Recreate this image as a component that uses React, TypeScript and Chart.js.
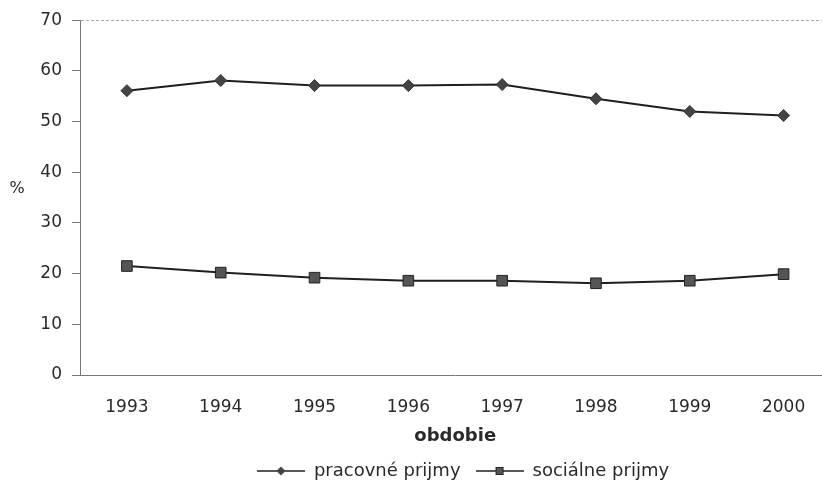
import React, { useEffect, useRef } from 'react';
import { Chart, registerables } from 'chart.js';

Chart.register(...registerables);

const years = ['1993', '1994', '1995', '1996', '1997', '1998', '1999', '2000'];
const pracovnePrijmy = [56.1, 58.1, 57.1, 57.1, 57.3, 54.5, 52.0, 51.2];
const socialnePrijmy = [21.5, 20.2, 19.2, 18.6, 18.6, 18.1, 18.6, 19.9];
const seriesLabels = ['pracovné prijmy', 'sociálne prijmy'];
const yMin = 0;
const yMax = 70;
const yStep = 10;
const xTitle = 'obdobie';
const yTitle = '%';

const FONT = '"DejaVu Sans", sans-serif';
const INK = '#1f1f1f';
const TEXT = '#2a2a2a';

function legendIcon(kind: 'diamond' | 'square'): HTMLCanvasElement {
  const c = document.createElement('canvas');
  c.width = 48;
  c.height = 12;
  const g = c.getContext('2d')!;
  g.strokeStyle = INK;
  g.lineWidth = 1.5;
  g.beginPath();
  g.moveTo(0, 6);
  g.lineTo(48, 6);
  g.stroke();
  if (kind === 'diamond') {
    g.fillStyle = '#444';
    g.beginPath();
    g.moveTo(19.5, 6);
    g.lineTo(24, 1.5);
    g.lineTo(28.5, 6);
    g.lineTo(24, 10.5);
    g.closePath();
    g.fill();
  } else {
    g.fillStyle = '#555';
    g.fillRect(20, 2, 8, 8);
    g.lineWidth = 1;
    g.strokeStyle = '#222';
    g.strokeRect(20.5, 2.5, 7, 7);
  }
  return c;
}

const decor = {
  id: 'decor',
  afterLayout(chart: any) {
    const lg = chart.legend;
    if (lg) {
      const dx = 463 - (lg.left + lg.right) / 2;
      lg.left += dx;
      lg.right += dx;
      const pad = lg.options.labels.padding;
      const newTop = 471 - pad - 9;
      const h = lg.bottom - lg.top;
      lg.top = newTop;
      lg.bottom = newTop + h;
    }
  },
  afterDraw(chart: any) {
    const ctx = chart.ctx;
    ctx.save();
    ctx.font = `16px ${FONT}`;
    ctx.fillStyle = TEXT;
    ctx.textAlign = 'center';
    ctx.textBaseline = 'middle';
    ctx.fillText(yTitle, 17, 189);
    ctx.restore();
  },
};

export default function App() {
  const ref = useRef<HTMLCanvasElement>(null);
  useEffect(() => {
    if (!ref.current) return;
    const icons = [legendIcon('diamond'), legendIcon('square')];
    const chart = new Chart(ref.current, {
      type: 'line',
      data: {
        labels: years,
        datasets: [
          {
            label: seriesLabels[0],
            data: pracovnePrijmy,
            borderColor: INK,
            borderWidth: 2,
            pointStyle: 'rectRot',
            pointRadius: 6,
            pointBackgroundColor: '#444',
            pointBorderColor: '#333',
            pointBorderWidth: 1,
            tension: 0,
          },
          {
            label: seriesLabels[1],
            data: socialnePrijmy,
            borderColor: INK,
            borderWidth: 2,
            pointStyle: 'rect',
            pointRadius: 7.5,
            pointBackgroundColor: '#555',
            pointBorderColor: '#222',
            pointBorderWidth: 1,
            tension: 0,
          },
        ],
      },
      options: {
        responsive: false,
        animation: false,
        devicePixelRatio: 1,
        layout: { padding: { top: 20, left: 0, right: 0, bottom: -4 } },
        plugins: {
          tooltip: { enabled: false },
          legend: {
            position: 'bottom',
            fullSize: false,
            labels: {
              usePointStyle: true,
              pointStyleWidth: 48,
              padding: 15,
              color: TEXT,
              font: { family: FONT, size: 18 },
              generateLabels: (c: any) =>
                c.data.datasets.map((ds: any, i: number) => ({
                  text: ds.label,
                  pointStyle: icons[i],
                  fillStyle: 'transparent',
                  strokeStyle: 'transparent',
                  lineWidth: 0,
                  hidden: false,
                  datasetIndex: i,
                  fontColor: TEXT,
                })),
            },
          },
        },
        scales: {
          x: {
            type: 'category',
            offset: true,
            grid: { display: false, drawTicks: false },
            border: { display: true, color: '#777', width: 1 },
            ticks: {
              color: TEXT,
              padding: 22,
              font: { family: FONT, size: 17 },
              maxRotation: 0,
            },
            title: {
              display: true,
              text: xTitle,
              color: TEXT,
              font: { family: FONT, size: 18, weight: 'bold' },
              padding: { top: 4, bottom: -3 },
            },
            afterFit: (s: any) => {
              s.height = 69;
            },
          },
          y: {
            min: yMin,
            max: yMax,
            ticks: {
              stepSize: yStep,
              color: TEXT,
              padding: 10,
              font: { family: FONT, size: 17 },
            },
            grid: {
              drawTicks: true,
              tickLength: 8,
              tickColor: '#777',
              color: (ctx: any) => (ctx.tick && ctx.tick.value === yMax ? '#aaa' : 'transparent'),
            },
            border: { display: true, color: '#777', width: 1, dash: [3, 2] },
            afterFit: (s: any) => {
              s.width = 80;
            },
          },
        },
      },
      plugins: [decor],
    });
    return () => chart.destroy();
  }, []);

  return (
    <div
      style={{
        position: 'absolute',
        left: 0,
        top: 0,
        width: 822,
        height: 483,
        overflow: 'hidden',
        background: '#fff',
      }}
    >
      <canvas ref={ref} width={839} height={483} style={{ display: 'block', width: 839, height: 483 }} />
    </div>
  );
}
